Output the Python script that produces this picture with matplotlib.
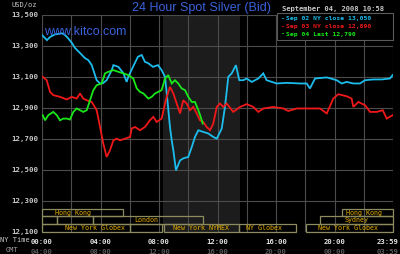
import matplotlib
matplotlib.use("Agg")
import matplotlib.pyplot as plt
from matplotlib.patches import Rectangle

# ---------------- data ----------------
sep02_hours = [0, 0.34, 0.55, 0.89, 1.37, 1.57, 1.78, 2.05, 2.26, 2.6, 2.94, 3.17, 3.4, 3.74, 3.97,
               4.17, 4.42, 4.77, 4.88, 5.22, 5.56, 5.79, 5.9, 6.22, 6.56, 6.82, 7.04, 7.25, 7.59,
               7.93, 8.18, 8.41, 8.53, 8.62, 8.75, 8.87, 8.98, 9.16, 9.25, 9.44, 9.66, 10.0, 10.24,
               10.46, 10.69, 11.03, 11.37, 11.71, 11.95, 12.29, 12.51, 12.74, 12.97, 13.26, 13.49,
               13.76, 14.0, 14.34, 14.79, 15.13, 15.36, 16.05, 16.73, 17.64, 18.1, 18.32, 18.67,
               19.47, 20.15, 20.49, 20.83, 21.29, 21.74, 22.09, 22.65, 23.23, 23.79, 23.98]
sep02_price = [13368, 13335, 13355, 13372, 13379, 13368, 13348, 13316, 13284, 13252, 13219, 13206,
               13174, 13077, 13056, 13058, 13077, 13142, 13174, 13163, 13123, 13066, 13099, 13163,
               13228, 13239, 13195, 13187, 13163, 13174, 13142, 13099, 12994, 12905, 12776, 12690,
               12626, 12497, 12518, 12561, 12574, 12583, 12647, 12712, 12755, 12744, 12734, 12712,
               12701, 12766, 12905, 13099, 13121, 13174, 13077, 13077, 13088, 13066, 13088, 13121,
               13077, 13056, 13060, 13056, 13056, 13024, 13088, 13095, 13077, 13056, 13066, 13056,
               13056, 13077, 13082, 13082, 13088, 13110]

sep03_hours = [0.05, 0.32, 0.55, 0.77, 1.23, 1.69, 2.03, 2.37, 2.6, 2.82, 3.06, 3.4, 3.74, 3.97,
               4.19, 4.42, 4.65, 4.88, 5.11, 5.33, 5.68, 6.02, 6.13, 6.36, 6.7, 7.04, 7.38, 7.61,
               7.84, 8.18, 8.41, 8.53, 8.75, 8.98, 9.21, 9.44, 9.66, 9.89, 10.12, 10.34, 10.58,
               10.8, 11.03, 11.26, 11.49, 11.71, 11.95, 12.17, 12.4, 12.63, 13.08, 13.54, 14.0,
               14.45, 14.79, 15.13, 15.82, 16.5, 16.84, 17.42, 18.32, 19.01, 19.47, 19.92, 20.26,
               20.83, 21.17, 21.29, 21.63, 22.09, 22.43, 22.89, 23.3, 23.57, 23.98]
sep03_price = [13099, 13077, 13002, 12981, 12970, 12953, 12970, 12959, 12992, 12959, 12948, 12937,
               12884, 12776, 12669, 12583, 12626, 12690, 12701, 12690, 12701, 12712, 12766, 12776,
               12755, 12776, 12819, 12841, 12808, 12830, 12927, 12970, 13034, 12992, 12927, 12863,
               12948, 12927, 12884, 12905, 12863, 12819, 12808, 12776, 12755, 12798, 12905, 12927,
               12905, 12927, 12873, 12905, 12923, 12905, 12873, 12895, 12905, 12895, 12879, 12895,
               12895, 12895, 12863, 12959, 12987, 12974, 12959, 12905, 12937, 12916, 12873, 12873,
               12884, 12830, 12852]

sep04_hours = [0.05, 0.21, 0.43, 0.77, 1.01, 1.23, 1.46, 1.69, 1.91, 2.14, 2.37, 2.6, 2.82, 3.06,
               3.28, 3.51, 3.74, 4.08, 4.31, 4.53, 4.88, 5.22, 5.56, 5.9, 6.24, 6.48, 6.7, 6.93,
               7.27, 7.5, 7.73, 7.95, 8.18, 8.41, 8.63, 8.87, 9.09, 9.32, 9.55, 9.78, 10.0, 10.24,
               10.46, 10.69, 10.85, 10.99]
sep04_price = [12852, 12819, 12852, 12873, 12852, 12819, 12830, 12830, 12824, 12873, 12895, 12884,
               12873, 12884, 12948, 13013, 13045, 13056, 13121, 13131, 13142, 13131, 13121, 13110,
               13088, 13024, 13002, 12992, 12959, 12970, 12992, 13002, 13013, 13088, 13110, 13056,
               13077, 13056, 13024, 13013, 12970, 12937, 12937, 12884, 12841, 12798]

series_labels = ["Sep 02 NY close 13,050", "Sep 03 NY close 12,890", "Sep 04 Last 12,790"]
series_colors = ["#1cbcec", "#f01818", "#18e818"]

ytick_values = [12100, 12300, 12500, 12700, 12900, 13100, 13300, 13500]
ytick_labels = ["12,100", "12,300", "12,500", "12,700", "12,900", "13,100", "13,300", "13,500"]
xtick_hours = [0, 4, 8, 12, 16, 20, 23.66]
ny_time_labels = ["00:00", "04:00", "08:00", "12:00", "16:00", "20:00", "23:59"]
gmt_labels = ["04:00", "08:00", "12:00", "16:00", "20:00", "00:00", "03:59"]

nymex_span = (8.27, 13.57)

# session boxes: (row, start, end, label, label_x)
session_rows = [0, 0, 1, 1, 1, 1, 2, 2, 2, 2, 2]
session_start = [0, 20.49, 0, 1.0, 3.5, 19.0, 0, 6.0, 8.34, 13.5, 18.05]
session_end = [5.52, 24, 1.0, 3.5, 11.0, 24, 6.0, 8.2, 13.5, 17.37, 24]
session_names = ["Hong Kong", "Hong Kong", "", "", "London", "Sydney",
                 "New York Globex", "", "New York NYMEX", "NY Globex", "New York Globex"]
session_label_x = [2.09, 22.0, 0, 0, 7.1, 21.5, 3.64, 0, 10.9, 15.2, 20.9]
row_bottoms = [12200, 12150, 12100]
row_height = 50

# ---------------- figure ----------------
W, H = 400, 254
fig = plt.figure(figsize=(4, 2.54), dpi=100, facecolor="black")
L, R, T, B = 42, 393, 14.5, 232
ax = fig.add_axes([L / W, 1 - B / H, (R - L) / W, (B - T) / H], facecolor="black")
ax.set_xlim(0, 24)
ax.set_ylim(12100, 13500)
for s in ax.spines.values():
    s.set_visible(False)

mono = "DejaVu Sans Mono"

def px(x, y):
    return x / W, 1 - y / H

# nymex shading
ax.axvspan(nymex_span[0], nymex_span[1], color="#1c1c1c", zorder=0, lw=0)

# grid
ax.set_xticks(range(0, 25, 2))
ax.set_yticks(ytick_values)
ax.grid(True, color="#4c4c4c", lw=0.8, zorder=1)
ax.set_axisbelow(True)
ax.tick_params(axis="x", length=0, labelbottom=False)
ax.tick_params(axis="y", length=0, pad=3, labelsize=5.3, labelcolor="#c8c8c8")
ax.set_yticklabels(ytick_labels, family=mono, fontweight="bold")

# session boxes
for r, s0, s1, name, lx in zip(session_rows, session_start, session_end, session_names, session_label_x):
    yb = row_bottoms[r]
    ax.add_patch(Rectangle((s0, yb), s1 - s0, row_height, facecolor="none",
                           edgecolor="#8c8c60", lw=0.9, zorder=2, clip_on=False))
    if name:
        ax.text(lx, yb + row_height / 2, name, color="#e8b000", fontsize=4.8, family=mono,
                ha="center", va="center", zorder=3)

# series
for hrs, pr, c in zip([sep02_hours, sep03_hours, sep04_hours],
                      [sep02_price, sep03_price, sep04_price], series_colors):
    ax.plot(hrs, pr, color=c, lw=1.3, zorder=4, solid_joinstyle="miter")

# x labels
for h, t1, t2 in zip(xtick_hours, ny_time_labels, gmt_labels):
    ax.text(h, -0.045, t1, transform=ax.get_xaxis_transform(), ha="center", va="center",
            color="#e4e4e4", fontsize=5.2, family=mono, fontweight="bold")
    ax.text(h, -0.09, t2, transform=ax.get_xaxis_transform(), ha="center", va="center",
            color="#5a5a5a", fontsize=5.2, family=mono, fontweight="bold")

fig.text(*px(15, 240.5), "NY Time", color="#c8c8c8", fontsize=5, family=mono, ha="center", va="center")
fig.text(*px(12.5, 250), "GMT", color="#a0a0a0", fontsize=5, family=mono, ha="center", va="center")
fig.text(*px(24.5, 5), "USD/oz", color="#c8c8c8", fontsize=5, family=mono, ha="center", va="center")

# title and stamps
fig.text(*px(201, 8), "24 Hour Spot Silver (Bid)", color="#3a62dc", fontsize=9,
         family="Liberation Sans", ha="center", va="center")
fig.text(*px(333, 8.5), "September 04, 2008 10:58", color="#c8c8c8", fontsize=5.1,
         family=mono, ha="center", va="center", fontweight="bold")
fig.text(*px(85, 32), "www.kitco.com", color="#3a62dc", fontsize=9,
         family="Liberation Sans", ha="center", va="center", zorder=5)

# legend box
fig.patches.append(Rectangle(px(277, 39.5), (393 - 277) / W, (39.5 - 13.5) / H,
                             transform=fig.transFigure, facecolor="black",
                             edgecolor="#5a5a5a", lw=0.8, zorder=5))
for i, (lab, c) in enumerate(zip(series_labels, series_colors)):
    y = 18.3 + i * 7.9
    fig.text(*px(280, y), "-", color=c, fontsize=4.6, family=mono, ha="left",
             va="center", fontweight="bold", zorder=6)
    fig.text(*px(286.5, y), lab, color=c, fontsize=4.6, family=mono, ha="left",
             va="center", fontweight="bold", zorder=6)

fig.savefig("out.png", dpi=100, facecolor="black")
